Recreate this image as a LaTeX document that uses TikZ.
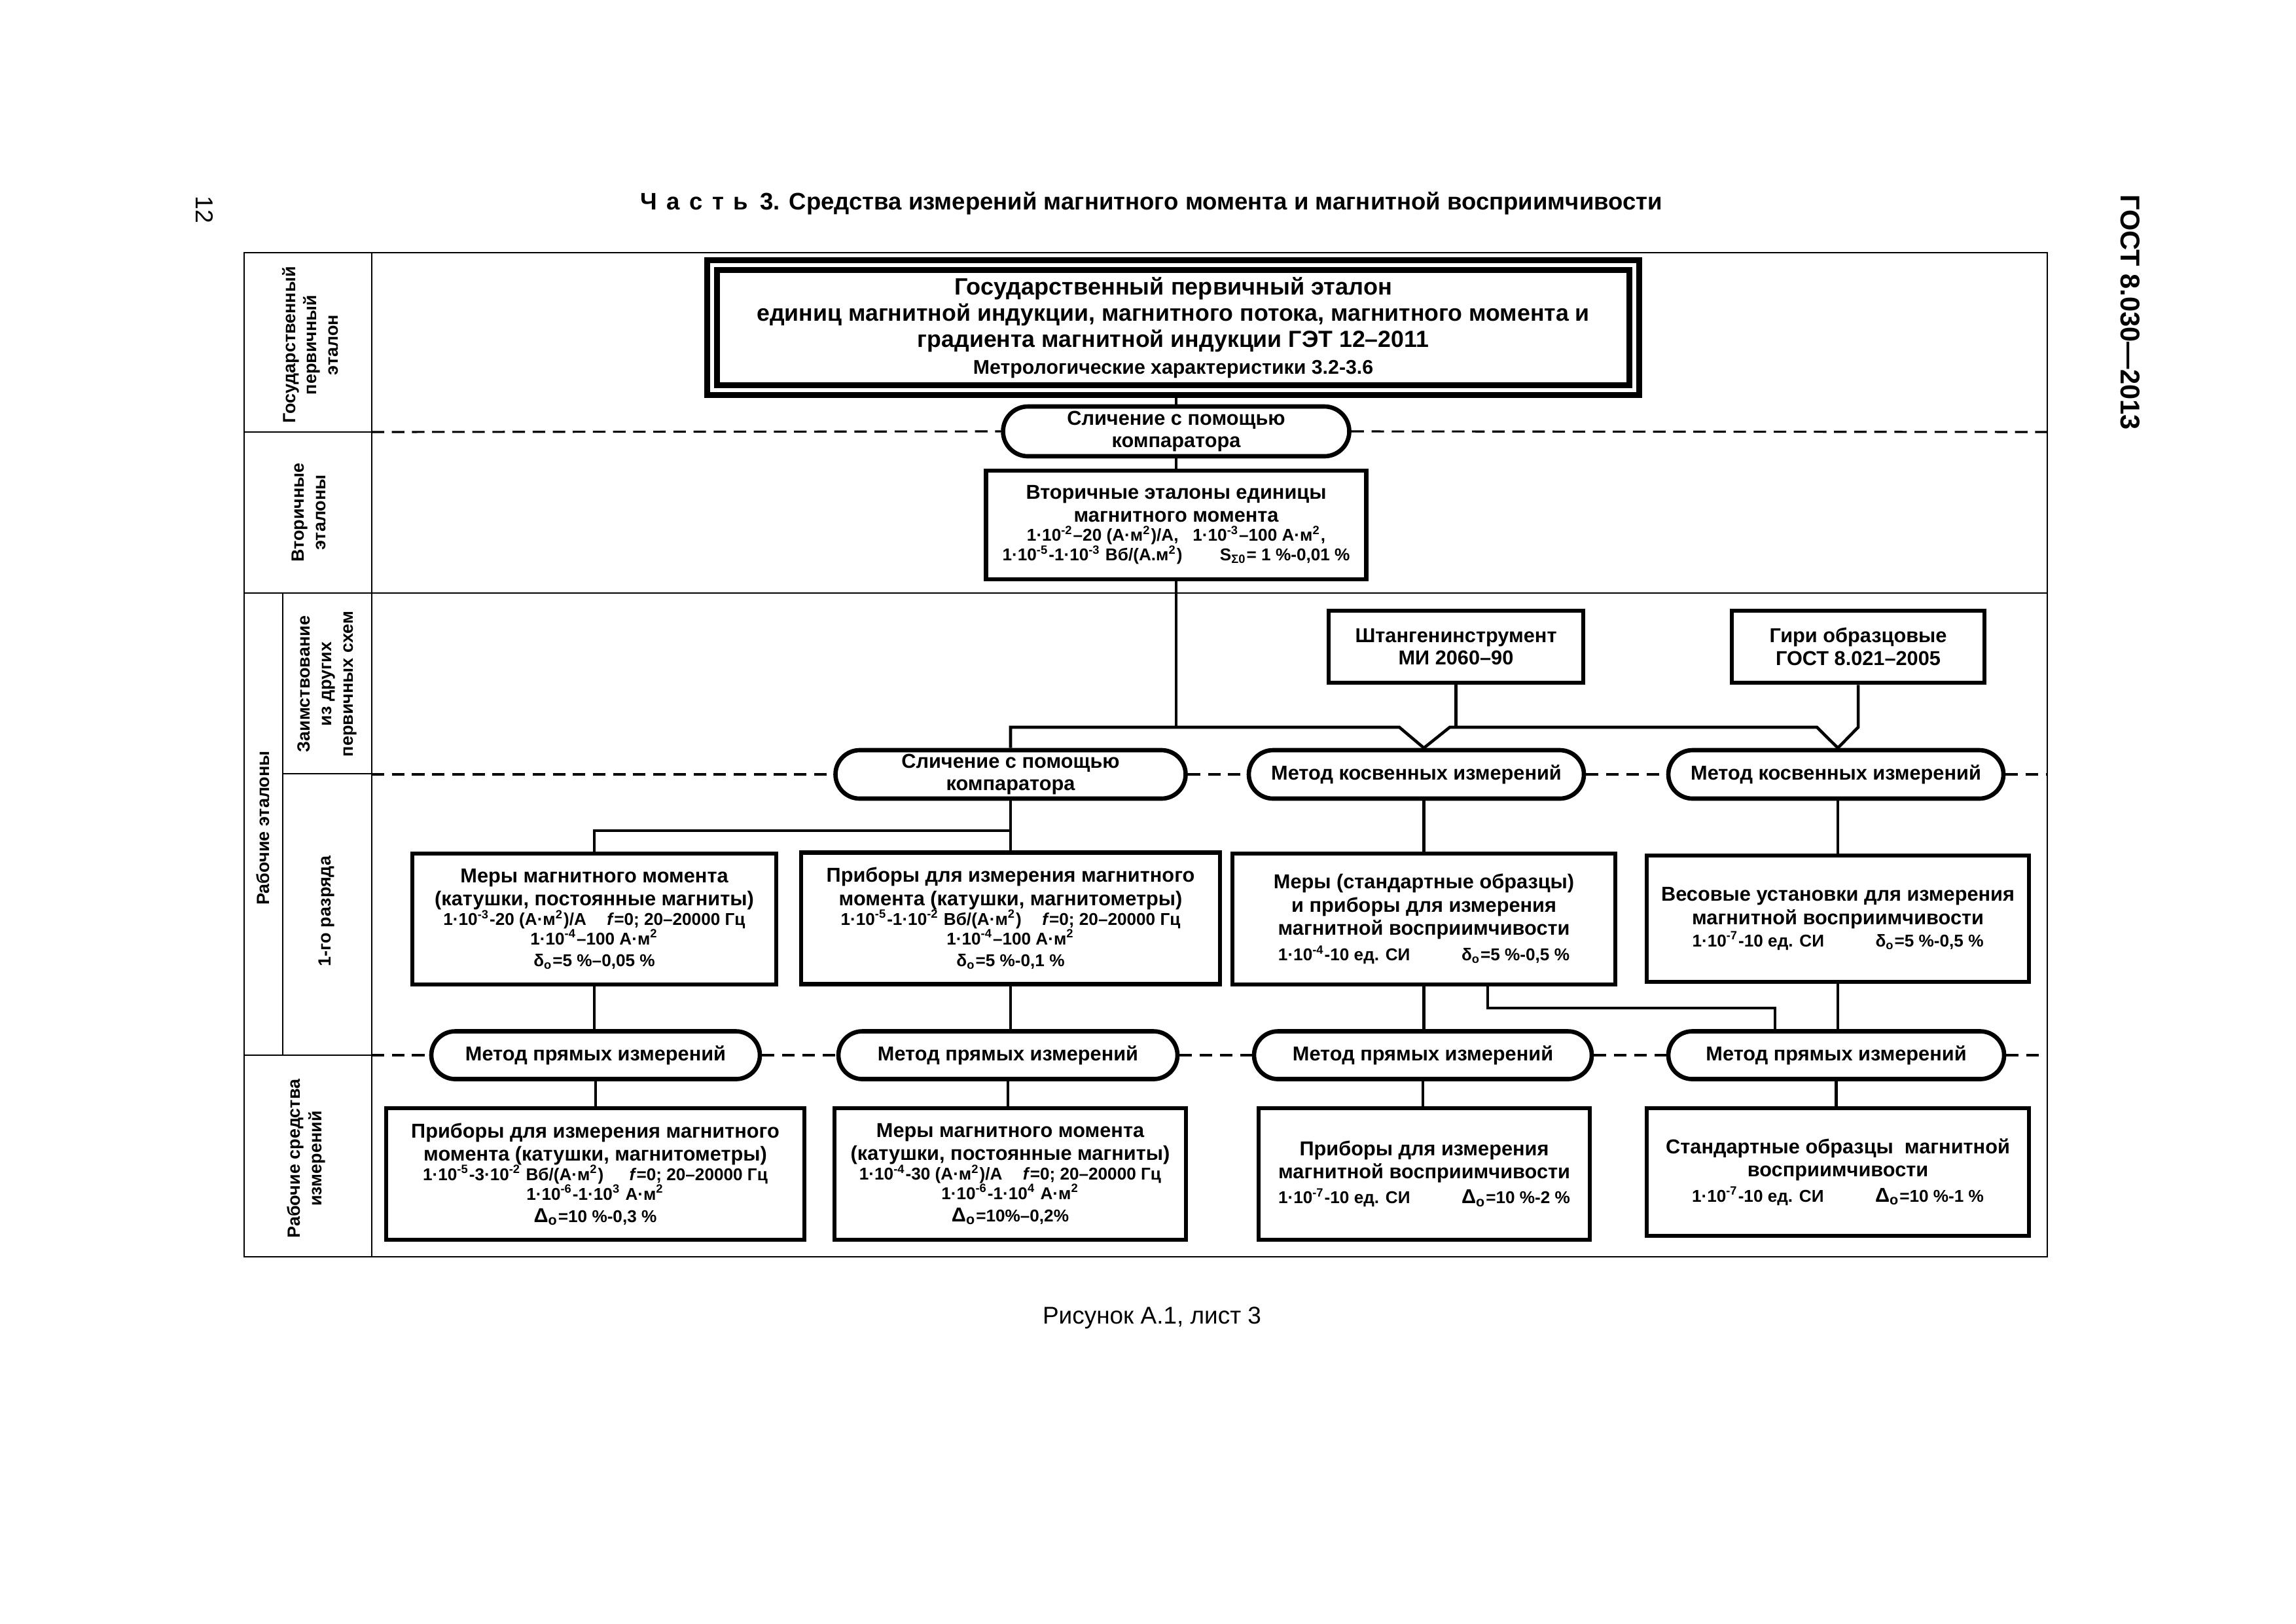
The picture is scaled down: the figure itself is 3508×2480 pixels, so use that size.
\documentclass[tikz,border=0pt]{standalone}
\usepackage{fontspec}
\setmainfont{Liberation Sans}
\usetikzlibrary{shapes.misc,calc}
\newcommand\ftl{\fontsize{7.4}{8.4}\selectfont\bfseries}
\newcommand\fdt{\fontsize{6.3}{7.2}\selectfont\bfseries}
\newcommand\flb{\fontsize{6.5}{7.9}\selectfont\bfseries}
\newcommand\sps[1]{\textsuperscript{#1}}
\newcommand\sbs[1]{\textsubscript{#1}}
\begin{document}
\begin{tikzpicture}[x=0.24088pt,y=-0.24088pt,
  sz/.style 2 args={minimum width=#1*0.24088pt,minimum height=#2*0.24088pt},
  frm/.style={line width=0.65pt},
  dsh/.style={line width=0.75pt,dash pattern=on 4.6pt off 2.8pt},
  conn/.style={line width=1.1pt},
  box/.style={draw,line width=1.6pt,inner sep=0pt,align=center,font=\fdt,fill=white},
  rbox/.style={draw,rounded rectangle,line width=1.6pt,inner sep=0pt,align=center,font=\ftl,fill=white},
  lab/.style={rotate=90,align=center,font=\flb}]
\fill[white] (0,0) rectangle (3508,2480);
\useasboundingbox (0,0) rectangle (3508,2480);

% page furniture
\node[font=\fontsize{8.8}{10}\selectfont\bfseries] (hdr) at (1759,311) {Ч\hspace{.4em}а\hspace{.4em}с\hspace{.4em}т\hspace{.4em}ь\hspace{.5em}3. Средства измерений магнитного момента и магнитной восприимчивости};
\node[rotate=-90,font=\fontsize{9}{10}\selectfont] (pg) at (313,320) {12};
\node[rotate=-90,font=\fontsize{10}{12}\selectfont\bfseries] (gost) at (3255,477) {ГОСТ 8.030—2013};
\node[font=\fontsize{8.9}{10}\selectfont] (cap) at (1760,2013) {Рисунок А.1, лист 3};

% frame
\draw[frm] (373,386) rectangle (3128,1920);
\draw[frm] (568,386) -- (568,1920);
\draw[frm] (432,906) -- (432,1612);
\draw[frm] (373,660) -- (568,660);
\draw[frm] (373,906) -- (3128,906);
\draw[frm] (432,1182) -- (568,1182);
\draw[frm] (373,1612) -- (568,1612);

% row labels
\node[lab] (l1) at (474,527) {Государственный\\первичный\\эталон};
\node[lab] (l2) at (472,783) {Вторичные\\эталоны};
\node[lab] (l3) at (402,1265) {Рабочие эталоны};
\node[lab] (l4) at (500,1045) {Заимствование\\из других\\первичных схем};
\node[lab] (l5) at (499,1392) {1-го разряда};
\node[lab] (l6) at (468,1770) {Рабочие средства\\измерений};

% nodes
\node[draw,line width=2.1pt,double,double distance=1.5pt,inner sep=0pt,align=center,sz={1409}{191},font=\fontsize{8.6}{9.7}\selectfont\bfseries] (gpe) at (1792.5,500.5)
 {{\fontsize{8.7}{9.7}\selectfont Государственный первичный эталон}\\единиц магнитной индукции, магнитного потока, магнитного момента и\\градиента магнитной индукции ГЭТ 12–2011\\{\fontsize{7.3}{8}\selectfont Метрологические характеристики 3.2-3.6}};
\node[rbox,sz={529}{76}] (cmp1) at (1797,659) {Сличение с помощью\\компаратора};
\node[box,sz={581}{166}] (vt) at (1797,802)
 {{\ftl Вторичные эталоны единицы}\\[1pt]{\ftl магнитного момента}\\1·10\sps{-2}–20 (А·м\sps{2})/А,\ \ \ 1·10\sps{-3}–100 А·м\sps{2},\\1·10\sps{-5}-1·10\sps{-3} Вб/(А.м\sps{2})\hspace{2.2em}S\sbs{Σ0}= 1 \%-0,01 \%};
\node[box,font=\ftl,sz={389}{110}] (sht) at (2224.5,988) {Штангенинструмент\\МИ 2060–90};
\node[box,font=\ftl,sz={386}{110}] (giri) at (2839,988) {Гири образцовые\\ГОСТ 8.021–2005};

\node[rbox,sz={535}{74}] (cmpL) at (1544,1183) {Сличение с помощью\\компаратора};
\node[rbox,sz={512}{74}] (kos1) at (2164,1183) {Метод косвенных измерений};
\node[rbox,sz={512}{74}] (kos2) at (2805,1183) {Метод косвенных измерений};

\node[box,sz={556}{200}] (m1) at (908,1404)
 {{\ftl Меры магнитного момента}\\[1.3pt]{\ftl (катушки, постоянные магниты)}\\1·10\sps{-3}-20 (А·м\sps{2})/А\hspace{1.2em}\textit{f}=0; 20–20000 Гц\\1·10\sps{-4}–100 А·м\sps{2}\\[0.8pt]δ\sbs{о}=5 \%–0,05 \%};
\node[box,sz={640}{201}] (p1) at (1544,1403)
 {{\ftl Приборы для измерения магнитного}\\[1.3pt]{\ftl момента (катушки, магнитометры)}\\1·10\sps{-5}-1·10\sps{-2} Вб/(А·м\sps{2})\hspace{1.2em}\textit{f}=0; 20–20000 Гц\\1·10\sps{-4}–100 А·м\sps{2}\\[0.8pt]δ\sbs{о}=5 \%-0,1 \%};
\node[box,sz={585}{200}] (ms) at (2175.5,1404)
 {{\ftl Меры (стандартные образцы)}\\[1.3pt]{\ftl и приборы для измерения}\\[1.3pt]{\ftl магнитной восприимчивости}\\[2.2pt]1·10\sps{-4}-10 ед. СИ\hspace{3em}δ\sbs{о}=5 \%-0,5 \%};
\node[box,sz={584}{193}] (ves) at (2808,1403.5)
 {{\ftl Весовые установки для измерения}\\[1.3pt]{\ftl магнитной восприимчивости}\\[1pt]1·10\sps{-7}-10 ед. СИ\hspace{3em}δ\sbs{о}=5 \%-0,5 \%};

\node[rbox,sz={502}{73}] (pr1) at (910,1612) {Метод прямых измерений};
\node[rbox,sz={518}{73}] (pr2) at (1540,1612) {Метод прямых измерений};
\node[rbox,sz={516}{73}] (pr3) at (2174,1612) {Метод прямых измерений};
\node[rbox,sz={513}{73}] (pr4) at (2805.5,1612) {Метод прямых измерений};

\node[box,sz={639}{201}] (w1) at (909.5,1793.5)
 {{\ftl Приборы для измерения магнитного}\\[1.3pt]{\ftl момента (катушки, магнитометры)}\\1·10\sps{-5}-3·10\sps{-2} Вб/(А·м\sps{2})\hspace{1.5em}\textit{f}=0; 20–20000 Гц\\1·10\sps{-6}-1·10\sps{3} А·м\sps{2}\\[1pt]{\ftl Δ\sbs{о}}=10 \%-0,3 \%};
\node[box,sz={537}{201}] (w2) at (1543.5,1793.5)
 {{\ftl Меры магнитного момента}\\[1.3pt]{\ftl (катушки, постоянные магниты)}\\1·10\sps{-4}-30 (А·м\sps{2})/А\hspace{1.2em}\textit{f}=0; 20–20000 Гц\\1·10\sps{-6}-1·10\sps{4} А·м\sps{2}\\[1pt]{\ftl Δ\sbs{о}}=10\%–0,2\%};
\node[box,sz={506}{201}] (w3) at (2176,1793.5)
 {{\ftl Приборы для измерения}\\[1.3pt]{\ftl магнитной восприимчивости}\\[2pt]1·10\sps{-7}-10 ед. СИ\hspace{3em}{\ftl Δ\sbs{о}}=10 \%-2 \%};
\node[box,sz={584}{195}] (w4) at (2808,1790.5)
 {{\ftl Стандартные образцы\ \ магнитной}\\[1.3pt]{\ftl восприимчивости}\\[2pt]1·10\sps{-7}-10 ед. СИ\hspace{3em}{\ftl Δ\sbs{о}}=10 \%-1 \%};

% dashed level lines
\coordinate (dl1) at (568,660);  \coordinate (dr1) at (3128,660);
\coordinate (dl2) at (568,1183); \coordinate (dr2) at (3128,1183);
\coordinate (dl3) at (568,1612); \coordinate (dr3) at (3128,1612);
\draw[dsh] (dl1) -- (cmp1.west); \draw[dsh] (cmp1.east) -- (dr1);
\draw[dsh] (dl2) -- (cmpL.west); \draw[dsh] (cmpL.east) -- (kos1.west);
\draw[dsh] (kos1.east) -- (kos2.west); \draw[dsh] (kos2.east) -- (dr2);
\draw[dsh] (dl3) -- (pr1.west); \draw[dsh] (pr1.east) -- (pr2.west);
\draw[dsh] (pr2.east) -- (pr3.west); \draw[dsh] (pr3.east) -- (pr4.west);
\draw[dsh] (pr4.east) -- (dr3);

% connectors
\draw[conn] (cmp1.north) -- (cmp1.north |- gpe.south);
\draw[conn] (cmp1.south) -- (cmp1.south |- vt.north);
\coordinate (b1) at (1544,1111);
\coordinate (vA) at (2138,1111);
\coordinate (vB) at (2215,1111);
\coordinate (vC) at (2776,1111);
\coordinate (vD) at (2839,1111);
\draw[conn] (vt.south) -- (vt.south |- b1);
\draw[conn] (cmpL.north) -- (b1) -- (vA) -- (ms.north |- kos1.north) -- (vB) -- (vC) -- (ves.north |- kos2.north) -- (vD) -- (giri.south);
\draw[conn] (sht.south) -- (sht.south |- vB);
\coordinate (j1) at (1544,1269);
\draw[conn] (cmpL.south) -- (p1.north);
\draw[conn] (j1) -| (m1.north);
\draw[conn] (kos1.south -| ms.north) -- (ms.north);
\draw[conn] (kos2.south -| ves.north) -- (ves.north);
\draw[conn] (m1.south) -- (m1.south |- pr1.north);
\draw[conn] (p1.south) -- (p1.south |- pr2.north);
\draw[conn] (ms.south) -- (ms.south |- pr3.north);
\coordinate (j2) at (2273,1504);
\coordinate (j3) at (2712,1540);
\draw[conn] (j2) |- (j3) -- (j3 |- pr4.north);
\draw[conn] (ves.south) -- (ves.south |- pr4.north);
\draw[conn] (pr1.south) -- (pr1.south |- w1.north);
\draw[conn] (pr2.south) -- (pr2.south |- w2.north);
\draw[conn] (pr3.south) -- (pr3.south |- w3.north);
\draw[conn] (pr4.south) -- (pr4.south |- w4.north);
\end{tikzpicture}
\end{document}
